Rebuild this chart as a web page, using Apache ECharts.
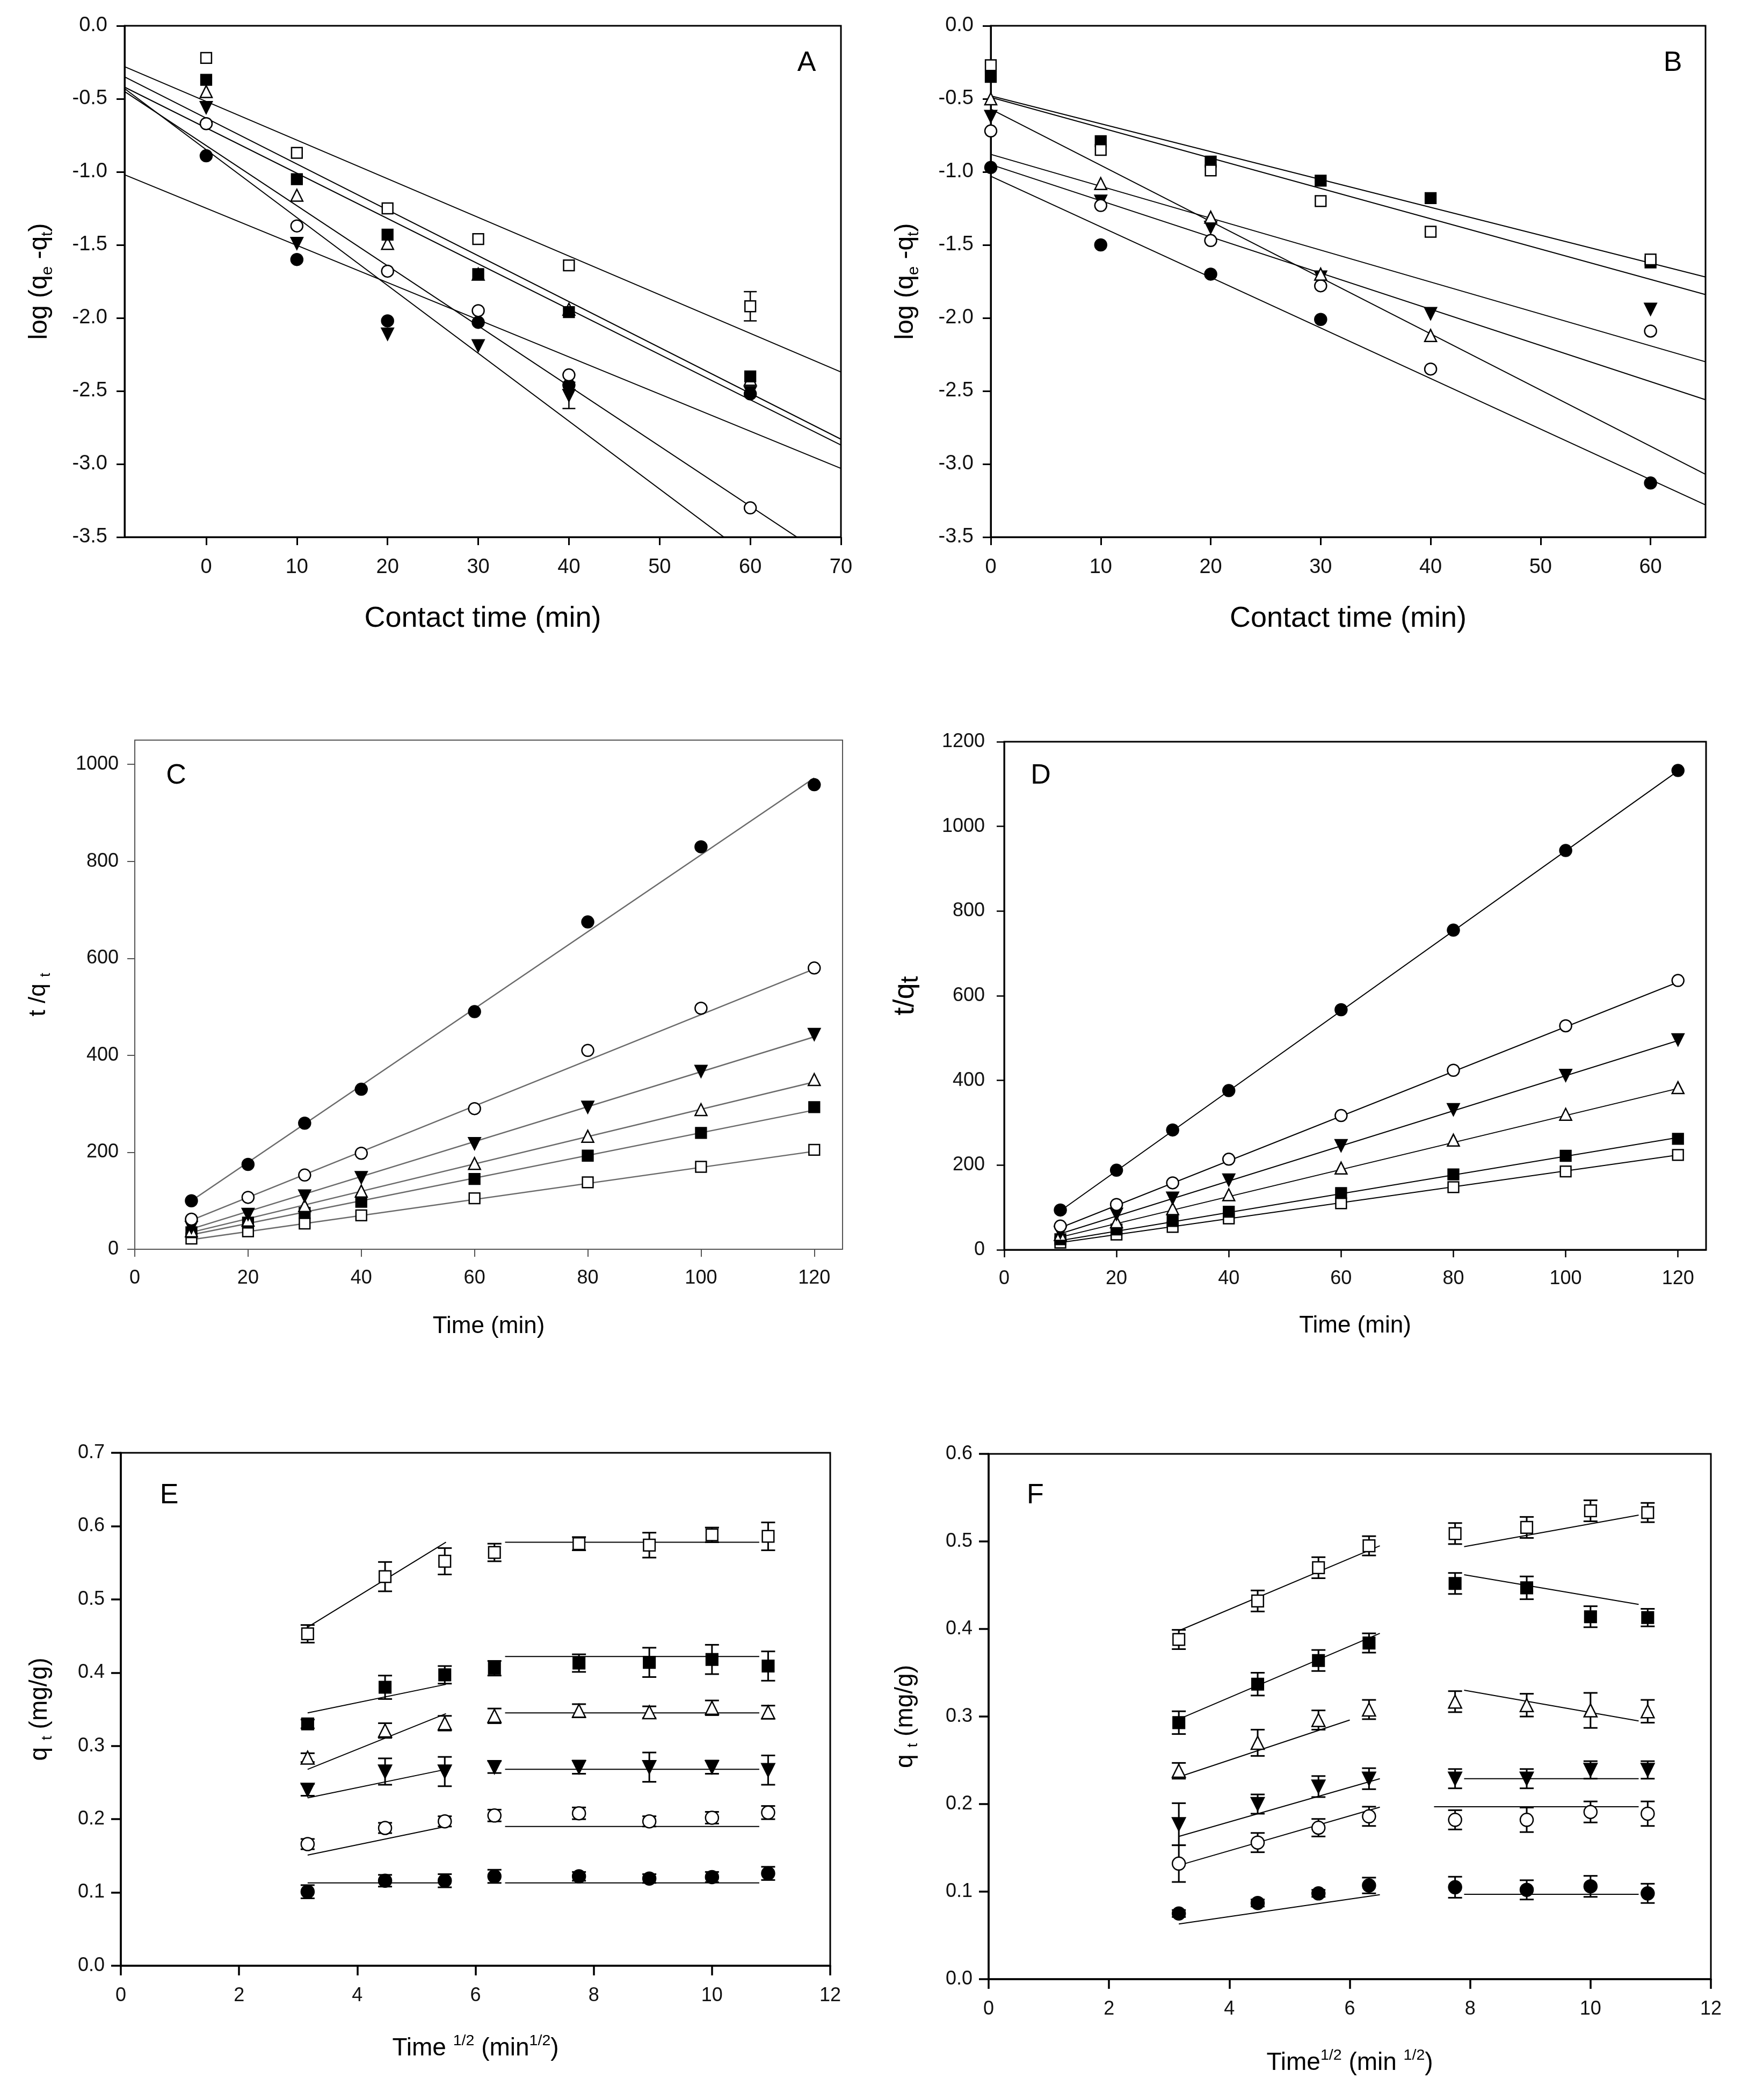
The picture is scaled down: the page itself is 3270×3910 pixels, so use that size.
<!DOCTYPE html>
<html><head><meta charset="utf-8">
<script src="https://cdn.jsdelivr.net/npm/echarts@6/dist/echarts.min.js"></script>
<style>html,body{margin:0;padding:0;background:#fff}#c{width:3270px;height:3910px}</style>
</head><body><div id="c"></div>
<script>
// ================= DATA =================
// Panel A & B : log(qe - qt) vs contact time
const timeAB = [0, 10, 20, 30, 40, 60];
const aOpenSquare     = [-0.22, -0.87, -1.25, -1.46, -1.64, -1.92];
const aFilledSquare   = [-0.37, -1.05, -1.43, -1.70, -1.96, -2.40];
const aOpenTriangle   = [-0.45, -1.16, -1.49, -1.70, -1.94, -2.42];
const aFilledTriangle = [-0.56, -1.49, -2.11, -2.19, -2.53, -2.51];
const aOpenCircle     = [-0.67, -1.37, -1.68, -1.95, -2.39, -3.30];
const aFilledCircle   = [-0.89, -1.60, -2.02, -2.03, -2.46, -2.52];
const aErrors = [[60, -1.92, 0.10], [40, -2.53, 0.09]];
const aFitX = [-9, 70];
const aFitY = [[-0.28, -2.37], [-0.35, -2.83], [-0.42, -2.87], [-0.43, -4.10], [-0.45, -3.70], [-1.02, -3.03]];

const bOpenSquare     = [-0.27, -0.85, -0.99, -1.20, -1.41, -1.60];
const bFilledSquare   = [-0.35, -0.79, -0.93, -1.06, -1.18, -1.62];
const bOpenTriangle   = [-0.50, -1.08, -1.31, -1.70, -2.12, null];
const bFilledTriangle = [-0.62, -1.20, -1.38, -1.72, -1.97, -1.94];
const bOpenCircle     = [-0.72, -1.23, -1.47, -1.78, -2.35, -2.09];
const bFilledCircle   = [-0.97, -1.50, -1.70, -2.01, null, -3.13];
const bFitX = [0, 65];
const bFitY = [[-0.48, -1.72], [-0.49, -1.84], [-0.57, -3.07], [-0.88, -2.30], [-0.95, -2.56], [-1.03, -3.28]];

// Panel C & D : t/qt vs time
const timeCD = [10, 20, 30, 40, 60, 80, 100, 120];
const cFilledCircle   = [100, 175, 260, 330, 490, 675, 830, 958];
const cOpenCircle     = [62, 107, 153, 198, 290, 410, 497, 580];
const cFilledTriangle = [45, 72, 110, 148, 218, 293, 367, 443];
const cOpenTriangle   = [38, 60, 90, 120, 177, 233, 288, 350];
const cFilledSquare   = [35, 55, 75, 98, 145, 193, 240, 293];
const cOpenSquare     = [22, 37, 53, 70, 105, 138, 170, 205];
const cFitX = [10, 120];
const cFitY = [[100, 972], [60, 578], [42, 438], [35, 345], [30, 287], [20, 202]];

const dFilledCircle   = [94, 188, 283, 376, 567, 755, 943, 1132];
const dOpenCircle     = [56, 107, 158, 214, 317, 424, 529, 636];
const dFilledTriangle = [41, 84, 122, 165, 246, 331, 412, 496];
const dOpenTriangle   = [36, 66, 97, 130, 193, 259, 320, 383];
const dFilledSquare   = [25, 48, 68, 90, 134, 178, 222, 262];
const dOpenSquare     = [17, 36, 54, 74, 110, 148, 185, 224];
const dFitX = [10, 120];
const dFitY = [[92, 1131], [52, 632], [38, 494], [30, 381], [22, 265], [17, 224]];

// Panel E & F : qt vs time^1/2
const rootTime = [3.16, 4.47, 5.48, 6.32, 7.75, 8.94, 10.0, 10.95];
const eOpenSquare        = [0.453, 0.531, 0.552, 0.564, 0.576, 0.574, 0.588, 0.586];
const eOpenSquareErr     = [0.012, 0.020, 0.018, 0.012, 0.009, 0.017, 0.010, 0.019];
const eFilledSquare      = [0.330, 0.380, 0.397, 0.406, 0.413, 0.414, 0.418, 0.409];
const eFilledSquareErr   = [0.006, 0.016, 0.012, 0.010, 0.012, 0.020, 0.020, 0.020];
const eOpenTriangle      = [0.284, 0.321, 0.331, 0.341, 0.348, 0.346, 0.352, 0.346];
const eOpenTriangleErr   = [0.006, 0.010, 0.010, 0.010, 0.009, 0.008, 0.010, 0.009];
const eFilledTriangle    = [0.240, 0.265, 0.265, 0.271, 0.271, 0.271, 0.271, 0.267];
const eFilledTriangleErr = [0.008, 0.018, 0.020, 0.008, 0.009, 0.020, 0.009, 0.020];
const eOpenCircle        = [0.166, 0.188, 0.197, 0.205, 0.208, 0.197, 0.202, 0.209];
const eOpenCircleErr     = [0.007, 0.007, 0.007, 0.008, 0.008, 0.007, 0.008, 0.009];
const eFilledCircle      = [0.101, 0.116, 0.116, 0.122, 0.122, 0.119, 0.121, 0.126];
const eFilledCircleErr   = [0.009, 0.008, 0.009, 0.009, 0.006, 0.006, 0.007, 0.009];
// fit segments: [x1, y1, x2, y2]
const eFitOpenSquare     = [[3.16, 0.462, 5.5, 0.578], [6.5, 0.578, 10.8, 0.578]];
const eFitFilledSquare   = [[3.16, 0.345, 5.5, 0.384], [6.5, 0.422, 10.8, 0.422]];
const eFitOpenTriangle   = [[3.16, 0.268, 5.5, 0.344], [6.5, 0.345, 10.8, 0.345]];
const eFitFilledTriangle = [[3.16, 0.229, 5.5, 0.268], [6.5, 0.268, 10.8, 0.268]];
const eFitOpenCircle     = [[3.16, 0.151, 5.5, 0.190], [6.5, 0.190, 10.8, 0.190]];
const eFitFilledCircle   = [[3.16, 0.113, 5.5, 0.113], [6.5, 0.113, 10.8, 0.113]];

const fOpenSquare        = [0.388, 0.432, 0.470, 0.495, 0.509, 0.516, 0.535, 0.533];
const fOpenSquareErr     = [0.011, 0.012, 0.012, 0.011, 0.012, 0.012, 0.012, 0.011];
const fFilledSquare      = [0.293, 0.337, 0.364, 0.384, 0.452, 0.447, 0.414, 0.413];
const fFilledSquareErr   = [0.013, 0.013, 0.012, 0.011, 0.012, 0.013, 0.012, 0.010];
const fOpenTriangle      = [0.238, 0.270, 0.296, 0.308, 0.317, 0.313, 0.307, 0.306];
const fOpenTriangleErr   = [0.009, 0.015, 0.011, 0.011, 0.012, 0.013, 0.020, 0.013];
const fFilledTriangle    = [0.177, 0.200, 0.220, 0.229, 0.229, 0.229, 0.239, 0.239];
const fFilledTriangleErr = [0.024, 0.011, 0.012, 0.012, 0.011, 0.011, 0.010, 0.010];
const fOpenCircle        = [0.132, 0.156, 0.173, 0.186, 0.182, 0.182, 0.191, 0.189];
const fOpenCircleErr     = [0.021, 0.011, 0.010, 0.011, 0.011, 0.014, 0.012, 0.014];
const fFilledCircle      = [0.075, 0.087, 0.098, 0.107, 0.105, 0.102, 0.106, 0.098];
const fFilledCircleErr   = [0.004, 0.004, 0.004, 0.009, 0.012, 0.011, 0.012, 0.011];
const fFitOpenSquare     = [[3.16, 0.398, 6.5, 0.495], [7.9, 0.494, 10.8, 0.530]];
const fFitFilledSquare   = [[3.16, 0.297, 6.5, 0.395], [7.9, 0.462, 10.8, 0.428]];
const fFitOpenTriangle   = [[3.16, 0.231, 6.0, 0.296], [7.9, 0.330, 10.8, 0.295]];
const fFitFilledTriangle = [[3.16, 0.163, 6.5, 0.229], [7.9, 0.229, 10.8, 0.229]];
const fFitOpenCircle     = [[3.16, 0.130, 6.5, 0.1965], [7.4, 0.197, 10.8, 0.197]];
const fFitFilledCircle   = [[3.16, 0.063, 6.5, 0.0965], [7.9, 0.097, 10.8, 0.097]];

// tick labels
const ticksA_x = [0, 10, 20, 30, 40, 50, 60, 70];
const ticksB_x = [0, 10, 20, 30, 40, 50, 60];
const ticksAB_y = [0, -0.5, -1, -1.5, -2, -2.5, -3, -3.5];
const ticksCD_x = [0, 20, 40, 60, 80, 100, 120];
const ticksC_y = [0, 200, 400, 600, 800, 1000];
const ticksD_y = [0, 200, 400, 600, 800, 1000, 1200];
const ticksEF_x = [0, 2, 4, 6, 8, 10, 12];
const ticksE_y = [0, 0.1, 0.2, 0.3, 0.4, 0.5, 0.6, 0.7];
const ticksF_y = [0, 0.1, 0.2, 0.3, 0.4, 0.5, 0.6];

// ================= CHART =================
const FONT = "'Liberation Sans', Arial, sans-serif";
const KIND = {
  os: {symbol: 'rect', fill: '#fff', rot: 0},
  fs: {symbol: 'rect', fill: '#000', rot: 0},
  ot: {symbol: 'triangle', fill: '#fff', rot: 0},
  ft: {symbol: 'triangle', fill: '#000', rot: 180},
  oc: {symbol: 'circle', fill: '#fff', rot: 0},
  fc: {symbol: 'circle', fill: '#000', rot: 0}
};
const series = [];
function pairs(xs, ys) { const r = []; xs.forEach((x, i) => { if (ys[i] !== null && ys[i] !== undefined) r.push([x, ys[i]]); }); return r; }
function scatter(g, xs, ys, kind, size) {
  const k = KIND[kind];
  series.push({type: 'scatter', xAxisIndex: g, yAxisIndex: g, data: pairs(xs, ys),
    symbol: k.symbol, symbolRotate: k.rot, symbolSize: kind[1] === 's' ? size * 0.9 : size,
    itemStyle: {color: k.fill, borderColor: '#000', borderWidth: 2.5, opacity: 1}, z: 5, silent: true});
}
function fitLine(g, x1, y1, x2, y2, color, width) {
  series.push({type: 'line', xAxisIndex: g, yAxisIndex: g, data: [[x1, y1], [x2, y2]], symbol: 'none',
    lineStyle: {color: color, width: width}, z: 2, silent: true, clip: true});
}
function errBars(g, data, cap, width) {
  series.push({type: 'custom', xAxisIndex: g, yAxisIndex: g, data: data, z: 3, silent: true,
    encode: {x: 0, y: 1},
    renderItem: function (params, api) {
      const x = api.value(0), y = api.value(1), e = api.value(2);
      const p1 = api.coord([x, y + e]), p2 = api.coord([x, y - e]);
      const st = {stroke: '#000', lineWidth: width};
      return {type: 'group', children: [
        {type: 'line', shape: {x1: p1[0], y1: p1[1], x2: p2[0], y2: p2[1]}, style: st},
        {type: 'line', shape: {x1: p1[0] - cap, y1: p1[1], x2: p1[0] + cap, y2: p1[1]}, style: st},
        {type: 'line', shape: {x1: p2[0] - cap, y1: p2[1], x2: p2[0] + cap, y2: p2[1]}, style: st}
      ]};
    }});
}
function errData(xs, ys, es) { return xs.map((x, i) => [x, ys[i], es[i]]); }

// Panel A
aFitY.forEach(f => fitLine(0, aFitX[0], f[0], aFitX[1], f[1], '#000', 2));
errBars(0, aErrors, 12, 2.5);
scatter(0, timeAB, aFilledCircle, 'fc', 22);
scatter(0, timeAB, aFilledTriangle, 'ft', 22);
scatter(0, timeAB, aOpenCircle, 'oc', 22);
scatter(0, timeAB, aOpenTriangle, 'ot', 22);
scatter(0, timeAB, aFilledSquare, 'fs', 22);
scatter(0, timeAB, aOpenSquare, 'os', 22);
// Panel B
bFitY.forEach(f => fitLine(1, bFitX[0], f[0], bFitX[1], f[1], '#000', 2));
scatter(1, timeAB, bFilledCircle, 'fc', 22);
scatter(1, timeAB, bFilledTriangle, 'ft', 22);
scatter(1, timeAB, bOpenCircle, 'oc', 22);
scatter(1, timeAB, bOpenTriangle, 'ot', 22);
scatter(1, timeAB, bFilledSquare, 'fs', 22);
scatter(1, timeAB, bOpenSquare, 'os', 22);
// Panel C
cFitY.forEach(f => fitLine(2, cFitX[0], f[0], cFitX[1], f[1], '#6a6a6a', 2.5));
scatter(2, timeCD, cOpenSquare, 'os', 22);
scatter(2, timeCD, cFilledSquare, 'fs', 22);
scatter(2, timeCD, cOpenTriangle, 'ot', 22);
scatter(2, timeCD, cFilledTriangle, 'ft', 22);
scatter(2, timeCD, cOpenCircle, 'oc', 22);
scatter(2, timeCD, cFilledCircle, 'fc', 22);
// Panel D
dFitY.forEach(f => fitLine(3, dFitX[0], f[0], dFitX[1], f[1], '#000', 2));
scatter(3, timeCD, dOpenSquare, 'os', 22);
scatter(3, timeCD, dFilledSquare, 'fs', 22);
scatter(3, timeCD, dOpenTriangle, 'ot', 22);
scatter(3, timeCD, dFilledTriangle, 'ft', 22);
scatter(3, timeCD, dOpenCircle, 'oc', 22);
scatter(3, timeCD, dFilledCircle, 'fc', 22);
// Panel E
const eSets = [
  [eOpenSquare, eOpenSquareErr, eFitOpenSquare, 'os'],
  [eFilledSquare, eFilledSquareErr, eFitFilledSquare, 'fs'],
  [eOpenTriangle, eOpenTriangleErr, eFitOpenTriangle, 'ot'],
  [eFilledTriangle, eFilledTriangleErr, eFitFilledTriangle, 'ft'],
  [eOpenCircle, eOpenCircleErr, eFitOpenCircle, 'oc'],
  [eFilledCircle, eFilledCircleErr, eFitFilledCircle, 'fc']
];
eSets.forEach(s => {
  s[2].forEach(seg => fitLine(4, seg[0], seg[1], seg[2], seg[3], '#000', 2));
  errBars(4, errData(rootTime, s[0], s[1]), 13, 3);
  scatter(4, rootTime, s[0], s[3], 24);
});
// Panel F
const fSets = [
  [fOpenSquare, fOpenSquareErr, fFitOpenSquare, 'os'],
  [fFilledSquare, fFilledSquareErr, fFitFilledSquare, 'fs'],
  [fOpenTriangle, fOpenTriangleErr, fFitOpenTriangle, 'ot'],
  [fFilledTriangle, fFilledTriangleErr, fFitFilledTriangle, 'ft'],
  [fOpenCircle, fOpenCircleErr, fFitOpenCircle, 'oc'],
  [fFilledCircle, fFilledCircleErr, fFitFilledCircle, 'fc']
];
fSets.forEach(s => {
  s[2].forEach(seg => fitLine(5, seg[0], seg[1], seg[2], seg[3], '#000', 2));
  errBars(5, errData(rootTime, s[0], s[1]), 13, 3);
  scatter(5, rootTime, s[0], s[3], 24);
});

// Axes
function axis(g, pos, min, max, ticks, fmt, labelSize, margin, name, nameSize, nameGap, rich, lineColor, lineWidth, tickLen) {
  return {
    type: 'value', gridIndex: g, position: pos, min: min, max: max,
    axisLine: {show: true, onZero: false, lineStyle: {color: lineColor, width: lineWidth}},
    axisTick: {show: true, inside: false, length: tickLen, customValues: ticks, lineStyle: {color: lineColor, width: lineWidth}},
    axisLabel: {show: true, customValues: ticks, formatter: fmt, fontSize: labelSize, fontFamily: FONT, color: '#111', margin: margin},
    splitLine: {show: false},
    name: name, nameLocation: 'middle', nameGap: nameGap,
    nameTextStyle: {fontSize: nameSize, fontFamily: FONT, color: '#000', lineHeight: nameSize * 1.25, rich: rich}
  };
}
const f1 = v => v.toFixed(1);
const f0 = v => String(Math.round(v));
function subRich(size) {
  return {
    sub: {fontSize: size * 0.62, fontFamily: FONT, color: '#000', verticalAlign: 'bottom', lineHeight: size * 0.62},
    sup: {fontSize: size * 0.62, fontFamily: FONT, color: '#000', verticalAlign: 'top', lineHeight: size * 0.62}
  };
}

const grids = [
  {left: 232, top: 48, width: 1334, height: 952},
  {left: 1845, top: 48, width: 1331, height: 952},
  {left: 251, top: 1378, width: 1318, height: 948},
  {left: 1870, top: 1381, width: 1307, height: 946},
  {left: 225, top: 2705, width: 1321, height: 955},
  {left: 1841, top: 2707, width: 1345, height: 978}
].map((g, i) => Object.assign(g, {show: true, borderColor: i === 2 ? '#555' : '#000', borderWidth: i === 2 ? 2 : 3, backgroundColor: 'transparent'}));

const xAxes = [
  axis(0, 'bottom', -9, 70, ticksA_x, f0, 38, 38, 'Contact time (min)', 54, 118, subRich(54), '#000', 3, 15),
  axis(1, 'bottom', 0, 65, ticksB_x, f0, 38, 38, 'Contact time (min)', 54, 118, subRich(54), '#000', 3, 15),
  axis(2, 'bottom', 0, 125, ticksCD_x, f0, 36, 36, 'Time (min)', 44, 116, subRich(44), '#555', 2, 14),
  axis(3, 'bottom', 0, 125, ticksCD_x, f0, 36, 36, 'Time (min)', 44, 114, subRich(44), '#000', 2.5, 14),
  axis(4, 'bottom', 0, 12, ticksEF_x, f0, 36, 38, 'Time {sup|1/2} (min{sup|1/2})', 46, 126, subRich(46), '#000', 3.5, 18),
  axis(5, 'bottom', 0, 12, ticksEF_x, f0, 36, 38, 'Time{sup|1/2} (min {sup|1/2})', 46, 128, subRich(46), '#000', 3.5, 18)
];
const yAxes = [
  axis(0, 'left', -3.5, 0, ticksAB_y, f1, 38, 32, 'log (q{sub|e} -q{sub|t})', 48, 128, subRich(48), '#000', 3, 15),
  axis(1, 'left', -3.5, 0, ticksAB_y, f1, 38, 32, 'log (q{sub|e} -q{sub|t})', 48, 128, subRich(48), '#000', 3, 15),
  axis(2, 'left', 0, 1050, ticksC_y, f0, 36, 30, 't /q {sub|t}', 44, 152, subRich(44), '#555', 2, 14),
  axis(3, 'left', 0, 1200, ticksD_y, f0, 36, 36, 't/q{sub|t}', 54, 150, subRich(76), '#000', 2.5, 14),
  axis(4, 'left', 0, 0.7, ticksE_y, f1, 36, 30, 'q {sub|t} (mg/g)', 46, 122, subRich(46), '#000', 3.5, 18),
  axis(5, 'left', 0, 0.6, ticksF_y, f1, 36, 30, 'q {sub|t} (mg/g)', 46, 126, subRich(46), '#000', 3.5, 18)
];

const letters = [['A', 1502, 118], ['B', 3115, 118], ['C', 328, 1445], ['D', 1938, 1445], ['E', 315, 2785], ['F', 1928, 2785]];
const graphic = letters.map(l => ({type: 'text', x: l[1], y: l[2], z: 10,
  style: {text: l[0], fontSize: 52, fontFamily: FONT, fill: '#000', align: 'center', verticalAlign: 'middle'}}));

const chart = echarts.init(document.getElementById('c'), null, {renderer: 'canvas'});
chart.setOption({
  animation: false,
  backgroundColor: '#fff',
  grid: grids,
  xAxis: xAxes,
  yAxis: yAxes,
  series: series,
  graphic: graphic
});
</script></body></html>
